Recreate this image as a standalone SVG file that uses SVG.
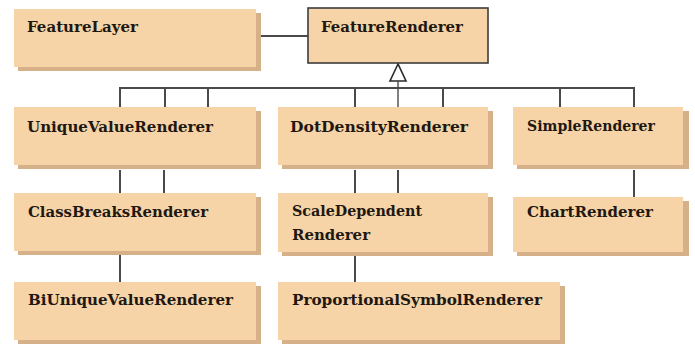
<svg xmlns="http://www.w3.org/2000/svg" width="695" height="347" viewBox="0 0 695 347">
<style>
.sh{fill:#d6b088}
.bx{fill:#f6d4a7}
.br{fill:#f6d4a7;stroke:#3c3c3c;stroke-width:1.6}
.t{font-family:"DejaVu Serif","Liberation Serif",serif;font-weight:bold;font-size:14px;fill:#1f1812}
.c{stroke:#4a4a4a;stroke-width:2;fill:none}
</style>
<rect width="695" height="347" fill="#ffffff"/>
<g id="connectors">
<line class="c" x1="261" y1="36" x2="308" y2="36"/>
<polygon points="398,64 390,81 406,81" fill="#ffffff" stroke="#2a2a2a" stroke-width="1.6"/>
<line class="c" x1="398" y1="81" x2="398" y2="107" style="stroke-width:1.4"/>
<line class="c" x1="119" y1="88" x2="635" y2="88"/>
<line class="c" x1="120" y1="88" x2="120" y2="107"/>
<line class="c" x1="165" y1="88" x2="165" y2="107"/>
<line class="c" x1="208" y1="88" x2="208" y2="107"/>
<line class="c" x1="355" y1="88" x2="355" y2="107"/>
<line class="c" x1="443" y1="88" x2="443" y2="107"/>
<line class="c" x1="560" y1="88" x2="560" y2="107"/>
<line class="c" x1="634" y1="88" x2="634" y2="107"/>
<line class="c" x1="120" y1="170" x2="120" y2="193"/>
<line class="c" x1="164" y1="170" x2="164" y2="193"/>
<line class="c" x1="355" y1="170" x2="355" y2="193"/>
<line class="c" x1="398" y1="170" x2="398" y2="193"/>
<line class="c" x1="634" y1="170" x2="634" y2="197"/>
<line class="c" x1="120" y1="255" x2="120" y2="282"/>
<line class="c" x1="355" y1="256" x2="355" y2="282"/>
</g>
<g id="FeatureLayer">
<rect class="sh" x="18" y="13" width="243" height="58"/>
<rect class="bx" x="14" y="9" width="242" height="58"/>
<text class="t" x="27" y="32" textLength="111" lengthAdjust="spacingAndGlyphs">FeatureLayer</text>
</g>
<g id="FeatureRenderer">
<rect class="br" x="308" y="8" width="180" height="55"/>
<text class="t" x="321" y="32" textLength="142" lengthAdjust="spacingAndGlyphs">FeatureRenderer</text>
</g>
<g id="UniqueValueRenderer">
<rect class="sh" x="18" y="111" width="243" height="58"/>
<rect class="bx" x="14" y="107" width="242" height="58"/>
<text class="t" x="27" y="132" textLength="186" lengthAdjust="spacingAndGlyphs">UniqueValueRenderer</text>
</g>
<g id="DotDensityRenderer">
<rect class="sh" x="282" y="111" width="211" height="58"/>
<rect class="bx" x="278" y="107" width="210" height="58"/>
<text class="t" x="290" y="132" textLength="178" lengthAdjust="spacingAndGlyphs">DotDensityRenderer</text>
</g>
<g id="SimpleRenderer">
<rect class="sh" x="517" y="111" width="172" height="58"/>
<rect class="bx" x="513" y="107" width="170" height="58"/>
<text class="t" x="527" y="131" textLength="128" lengthAdjust="spacingAndGlyphs">SimpleRenderer</text>
</g>
<g id="ClassBreaksRenderer">
<rect class="sh" x="18" y="197" width="243" height="58"/>
<rect class="bx" x="14" y="193" width="242" height="58"/>
<text class="t" x="28" y="217" textLength="180" lengthAdjust="spacingAndGlyphs">ClassBreaksRenderer</text>
</g>
<g id="ScaleDependentRenderer">
<rect class="sh" x="282" y="197" width="211" height="59"/>
<rect class="bx" x="278" y="193" width="210" height="59"/>
<text class="t" x="292" y="216" textLength="130" lengthAdjust="spacingAndGlyphs">ScaleDependent</text>
<text class="t" x="292" y="240" textLength="78" lengthAdjust="spacingAndGlyphs">Renderer</text>
</g>
<g id="ChartRenderer">
<rect class="sh" x="517" y="201" width="172" height="55"/>
<rect class="bx" x="513" y="197" width="170" height="55"/>
<text class="t" x="527" y="217" textLength="126" lengthAdjust="spacingAndGlyphs">ChartRenderer</text>
</g>
<g id="BiUniqueValueRenderer">
<rect class="sh" x="18" y="286" width="243" height="58"/>
<rect class="bx" x="14" y="282" width="242" height="58"/>
<text class="t" x="28" y="305" textLength="205" lengthAdjust="spacingAndGlyphs">BiUniqueValueRenderer</text>
</g>
<g id="ProportionalSymbolRenderer">
<rect class="sh" x="282" y="286" width="283" height="58"/>
<rect class="bx" x="278" y="282" width="282" height="58"/>
<text class="t" x="292" y="305" textLength="250" lengthAdjust="spacingAndGlyphs">ProportionalSymbolRenderer</text>
</g>
</svg>
